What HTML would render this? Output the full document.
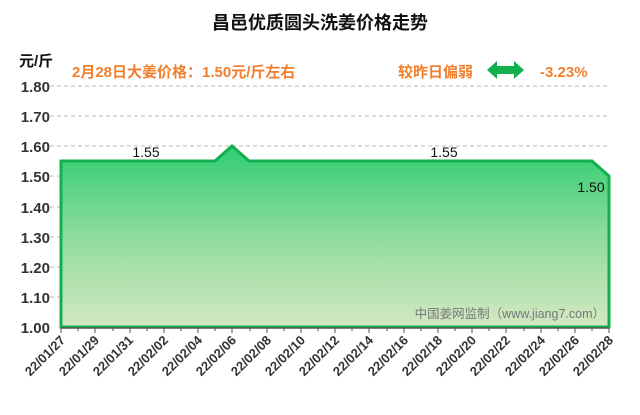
<!DOCTYPE html>
<html><head><meta charset="utf-8"><style>
body{margin:0;background:#fff;}
svg text{font-family:"Liberation Sans","Noto Sans CJK SC",sans-serif;}
</style></head><body>
<svg width="640" height="410" xmlns="http://www.w3.org/2000/svg">
<defs>
<linearGradient id="g" x1="0" y1="0" x2="0" y2="1">
<stop offset="0" stop-color="#30cd72"/>
<stop offset="0.5" stop-color="#8fdc9c"/>
<stop offset="1" stop-color="#d4e8c2"/>
</linearGradient>
</defs>
<text x="320" y="29" text-anchor="middle" font-size="18" font-weight="bold" fill="#111">昌邑优质圆头洗姜价格走势</text>
<text x="19" y="66" font-size="15" font-weight="bold" fill="#111">元/斤</text>
<text x="72" y="77" font-size="15" font-weight="bold" fill="#f07f2e">2月28日大姜价格：1.50元/斤左右</text>
<text x="398" y="77" font-size="15" font-weight="bold" fill="#f07f2e">较昨日偏弱</text>
<polygon points="487,70 497,61 497,66 514,66 514,61 524,70 514,79 514,74 497,74 497,79" fill="#12b04e"/>
<text x="540" y="77" font-size="15" font-weight="bold" fill="#f07f2e">-3.23%</text>
<g stroke="#bbb" stroke-dasharray="4,3" stroke-width="1">
<line x1="50" y1="86" x2="610" y2="86"/><line x1="50" y1="116" x2="610" y2="116"/>
<line x1="50" y1="146" x2="610" y2="146"/><line x1="50" y1="176" x2="610" y2="176"/>
<line x1="50" y1="207" x2="610" y2="207"/><line x1="50" y1="237" x2="610" y2="237"/>
<line x1="50" y1="267" x2="610" y2="267"/><line x1="50" y1="297" x2="610" y2="297"/>
</g>
<g font-size="15" font-weight="bold" fill="#333" text-anchor="end">
<text x="50" y="92">1.80</text><text x="50" y="122">1.70</text><text x="50" y="152">1.60</text>
<text x="50" y="182">1.50</text><text x="50" y="213">1.40</text><text x="50" y="243">1.30</text>
<text x="50" y="273">1.20</text><text x="50" y="303">1.10</text><text x="50" y="333">1.00</text>
</g>
<polygon points="61,327 61,161 215,161 232,146 249,161 592,161 609,176 609,327" fill="url(#g)" stroke="#12b04e" stroke-width="3"/>
<line x1="61" y1="328" x2="609" y2="328" stroke="#555" stroke-width="1.5"/>
<g stroke="#555" stroke-width="1">
<path d="M61,328v5M78,328v3M95,328v5M113,328v3M130,328v5M147,328v3M164,328v5M181,328v3M198,328v5M215,328v3M232,328v5M250,328v3M267,328v5M284,328v3M301,328v5M318,328v3M335,328v5M352,328v3M369,328v5M387,328v3M404,328v5M421,328v3M438,328v5M455,328v3M472,328v5M489,328v3M506,328v5M524,328v3M541,328v5M558,328v3M575,328v5M592,328v3M609,328v5"/>
</g>
<g font-size="14" fill="#111">
<text x="146" y="157" text-anchor="middle">1.55</text>
<text x="444" y="157" text-anchor="middle">1.55</text>
<text x="591" y="192" text-anchor="middle">1.50</text>
</g>
<text x="605" y="318" text-anchor="end" font-size="12.5" fill="#777">中国姜网监制（www.jiang7.com）</text>
<g font-size="13" font-weight="bold" fill="#333" text-anchor="end">
<text transform="translate(66,341) rotate(-45)">22/01/27</text>
<text transform="translate(100,341) rotate(-45)">22/01/29</text>
<text transform="translate(134,341) rotate(-45)">22/01/31</text>
<text transform="translate(169,341) rotate(-45)">22/02/02</text>
<text transform="translate(203,341) rotate(-45)">22/02/04</text>
<text transform="translate(237,341) rotate(-45)">22/02/06</text>
<text transform="translate(272,341) rotate(-45)">22/02/08</text>
<text transform="translate(306,341) rotate(-45)">22/02/10</text>
<text transform="translate(340,341) rotate(-45)">22/02/12</text>
<text transform="translate(374,341) rotate(-45)">22/02/14</text>
<text transform="translate(409,341) rotate(-45)">22/02/16</text>
<text transform="translate(443,341) rotate(-45)">22/02/18</text>
<text transform="translate(477,341) rotate(-45)">22/02/20</text>
<text transform="translate(511,341) rotate(-45)">22/02/22</text>
<text transform="translate(546,341) rotate(-45)">22/02/24</text>
<text transform="translate(580,341) rotate(-45)">22/02/26</text>
<text transform="translate(614,341) rotate(-45)">22/02/28</text>
</g>
</svg>
</body></html>
